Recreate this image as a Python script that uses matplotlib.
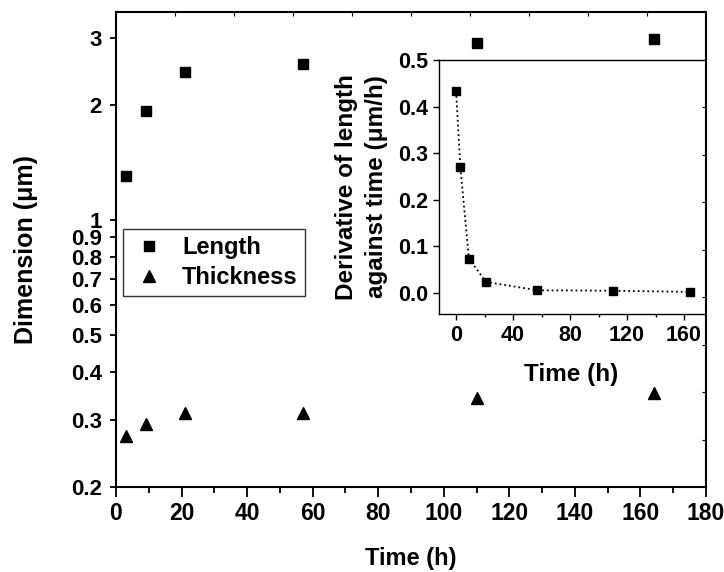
import numpy as np
import matplotlib
matplotlib.use("Agg")
import matplotlib.pyplot as plt
from matplotlib.ticker import FixedLocator, NullFormatter, NullLocator, MultipleLocator

plt.rcParams["font.family"] = ["Liberation Sans", "DejaVu Sans"]
plt.rcParams["font.weight"] = "bold"
plt.rcParams["axes.labelweight"] = "bold"

# main panel: length and thickness vs time
time_h = [3, 9, 21, 57, 110, 164]
length_um = [1.30, 1.93, 2.44, 2.56, 2.90, 2.97]
thickness_um = [0.272, 0.292, 0.312, 0.312, 0.341, 0.353]

# inset: derivative of length against time
deriv_time = [0, 3, 9, 21, 57, 110, 164]
deriv_rate = [0.433, 0.269, 0.073, 0.023, 0.005, 0.004, 0.0015]

ytick_vals = [0.2, 0.3, 0.4, 0.5, 0.6, 0.7, 0.8, 0.9, 1, 2, 3]
ytick_labels = ["0.2", "0.3", "0.4", "0.5", "0.6", "0.7", "0.8", "0.9", "1", "2", "3"]

fig = plt.figure(figsize=(7.24, 5.72), dpi=100)
ax = fig.add_axes([116 / 724, 1 - 487 / 572, 590 / 724, 475 / 572])

ax.plot(time_h, length_um, "s", color="black", ms=7, label="Length", zorder=3)
ax.plot(time_h, thickness_um, "^", color="black", ms=8, label="Thickness", zorder=3)

ax.set_yscale("log")
ax.set_ylim(0.2, 3.5)
ax.set_xlim(0, 180)
ax.yaxis.set_major_locator(FixedLocator(ytick_vals))
ax.yaxis.set_minor_locator(NullLocator())
ax.set_yticklabels(ytick_labels)
ax.xaxis.set_major_locator(MultipleLocator(20))
ax.xaxis.set_minor_locator(MultipleLocator(10))
ax.tick_params(axis="x", which="major", direction="out", length=7, width=1.3,
               labelsize=16.5, pad=4)
ax.tick_params(axis="x", which="minor", direction="out", length=4, width=1.3)
ax.tick_params(axis="y", which="major", direction="out", length=4, width=1.3,
               labelsize=16, pad=6)
for s in ax.spines.values():
    s.set_linewidth(1.5)
ax.set_xlabel("Time (h)", fontsize=17, labelpad=16)
ax.set_ylabel("Dimension (\u03bcm)", fontsize=18, labelpad=24)

leg = ax.legend(loc="upper left", bbox_to_anchor=(7 / 590, 1 - (229 - 12) / 475),
                fontsize=17, frameon=True, fancybox=False, edgecolor="black",
                borderpad=0.3, handletextpad=0.6, labelspacing=0.3,
                handlelength=1.6, borderaxespad=0)
leg.get_frame().set_linewidth(1.0)
for t in leg.get_texts():
    t.set_fontweight("bold")

# mirror axes on top and right with plain inward ticks
axt = ax.twiny()
axt.set_xlim(0, 10)
axt.xaxis.set_major_locator(FixedLocator(range(1, 10)))
axt.xaxis.set_major_formatter(NullFormatter())
axt.tick_params(axis="x", direction="in", length=3, width=0.8)
axr = ax.twinx()
axr.set_ylim(0, 10)
axr.yaxis.set_major_locator(FixedLocator(range(1, 10)))
axr.yaxis.set_major_formatter(NullFormatter())
axr.tick_params(axis="y", direction="in", length=3, width=0.8)
for a in (axt, axr):
    for s in a.spines.values():
        s.set_visible(False)

# inset
ins = fig.add_axes([439 / 724, 1 - 314 / 572, 265 / 724, 254 / 572])
ins.patch.set_alpha(0)
ins.plot(deriv_time, deriv_rate, ":", color="black", lw=1.3)
ins.plot(deriv_time, deriv_rate, "s", color="black", ms=5.5)
ins.set_xlim(-12, 174)
ins.set_ylim(-0.046, 0.5)
ins.xaxis.set_major_locator(MultipleLocator(40))
ins.xaxis.set_minor_locator(MultipleLocator(20))
ins.yaxis.set_major_locator(MultipleLocator(0.1))
ins.yaxis.set_major_formatter(plt.FuncFormatter(lambda v, p: f"{v:.1f}"))
ins.tick_params(axis="both", which="major", direction="out", length=4, width=1,
                labelsize=15.5, pad=4)
ins.tick_params(axis="x", which="minor", direction="out", length=2.5, width=1)
ins.spines["right"].set_visible(False)
for s in ("top", "left", "bottom"):
    ins.spines[s].set_linewidth(1.0)
ins.set_xlabel("Time (h)", fontsize=17.5, labelpad=12)
ins.set_ylabel("Derivative of length\nagainst time (\u03bcm/h)", fontsize=17.5,
               labelpad=7, linespacing=1.4)

fig.savefig("out.png", dpi=100)
